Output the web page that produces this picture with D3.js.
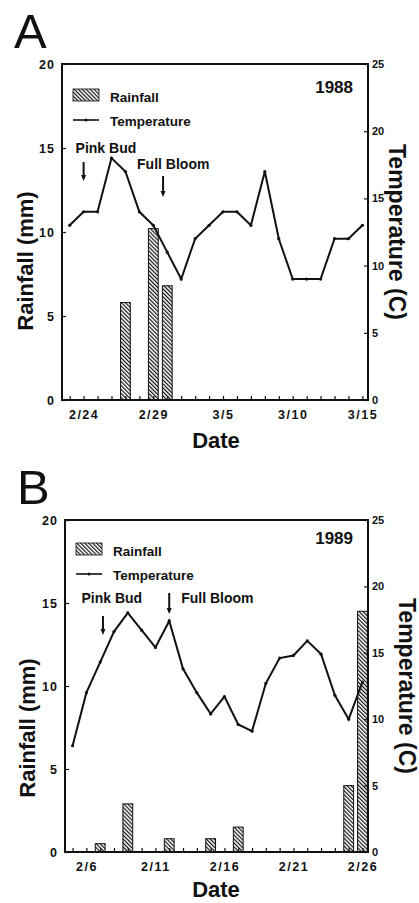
<!DOCTYPE html>
<html>
<head>
<meta charset="utf-8">
<script src="https://cdn.jsdelivr.net/npm/d3@7"></script>
<style>
  body { margin: 0; background: #fff; }
  text { font-family: "Liberation Sans", Arial, sans-serif; fill: #111; }
</style>
</head>
<body>
<script>
// ---- data ----
var dates88 = ["2/23","2/24","2/25","2/26","2/27","2/28","2/29","3/1","3/2","3/3","3/4",
               "3/5","3/6","3/7","3/8","3/9","3/10","3/11","3/12","3/13","3/14","3/15"];
var rain88 = [0,0,0,0,5.8,0,10.2,6.8,0,0,0,0,0,0,0,0,0,0,0,0,0,0];
var temp88 = [13,14,14,18,17,14,13,11,9,12,13,14,14,13,17,12,9,9,9,12,12,13];
var tickLabels88 = ["2/24","2/29","3/5","3/10","3/15"];

var dates89 = ["2/5","2/6","2/7","2/8","2/9","2/10","2/11","2/12","2/13","2/14","2/15",
               "2/16","2/17","2/18","2/19","2/20","2/21","2/22","2/23","2/24","2/25","2/26"];
var rain89 = [0,0,0.5,0,2.9,0,0,0.8,0,0,0.8,0,1.5,0,0,0,0,0,0,0,4.0,14.5];
var temp89 = [8,12,14.3,16.6,18,16.7,15.4,17.4,13.8,12,10.4,11.7,9.6,9.1,12.7,14.6,14.8,15.9,14.9,11.8,10,12.8];
var tickLabels89 = ["2/6","2/11","2/16","2/21","2/26"];

var rainTicks = [0,5,10,15,20];
var tempTicks = [0,5,10,15,20,25];
var stageNames = ["Pink Bud","Full Bloom"];
var stagePos88 = [1, 6.7];   // position along the date index
var stagePos89 = [2.2, 7];

var svg = d3.select("body").append("svg")
    .attr("width", 419)
    .attr("height", 903);

var defs = svg.append("defs");
var pat = defs.append("pattern")
    .attr("id", "hatch")
    .attr("patternUnits", "userSpaceOnUse")
    .attr("width", 2.8)
    .attr("height", 2.8)
    .attr("patternTransform", "rotate(-45)");
pat.append("rect").attr("width", 2.8).attr("height", 2.8).attr("fill", "#fff");
pat.append("line").attr("x1", 0.6).attr("y1", 0).attr("x2", 0.6).attr("y2", 2.8)
    .attr("stroke", "#111").attr("stroke-width", 1.2);

function panel(c)
{
    var g = svg.append("g");

    var x = d3.scaleLinear().domain([-0.55, 21.4]).range([c.left, c.right]);
    var yR = d3.scaleLinear().domain([0, 20]).range([c.bottom, c.top]);
    var yT = d3.scaleLinear().domain([0, 25]).range([c.bottom, c.top]);
    var bw = 9.8;

    // bars
    var bars = c.rain.map(function(v, i) { return { v: v, i: i }; })
        .filter(function(d) { return d.v > 0; });
    g.selectAll("rect.bar")
	.data(bars)
	.enter().append("rect")
	.attr("class", "bar")
	.attr("x", function(d) { return x(d.i) - bw / 2; })
	.attr("width", bw)
	.attr("y", function(d) { return yR(d.v); })
	.attr("height", function(d) { return yR(0) - yR(d.v); })
	.attr("fill", "url(#hatch)")
	.attr("stroke", "#111")
	.attr("stroke-width", 1);

    // temperature line
    var line = d3.line()
	.x(function(d, i) { return x(i); })
	.y(function(d) { return yT(d); });
    g.append("path")
	.datum(c.temp)
	.attr("d", line)
	.attr("fill", "none")
	.attr("stroke", "#111")
	.attr("stroke-width", 2)
	.attr("stroke-linejoin", "miter");
    g.selectAll("circle.pt")
	.data(c.temp)
	.enter().append("circle")
	.attr("class", "pt")
	.attr("cx", function(d, i) { return x(i); })
	.attr("cy", function(d) { return yT(d); })
	.attr("r", 1.6)
	.attr("fill", "#111");

    // axes
    var ax = g.append("g")
	.attr("transform", "translate(0," + c.bottom + ")")
	.call(d3.axisBottom(x)
	      .tickValues(d3.range(c.dates.length))
	      .tickSize(-4)
	      .tickSizeOuter(0)
	      .tickPadding(10)
	      .tickFormat(function(i) {
		  return c.tickLabels.indexOf(c.dates[i]) >= 0 ? c.dates[i] : "";
	      }));
    ax.selectAll("text").style("font-size", "12.5px").style("font-weight", "bold")
	.style("letter-spacing", "1.5px");

    var al = g.append("g")
	.attr("transform", "translate(" + c.left + ",0)")
	.call(d3.axisLeft(yR).tickValues(rainTicks).tickSize(-4).tickSizeOuter(0).tickPadding(7));
    al.selectAll("text").style("font-size", "12.5px").style("font-weight", "bold")
	.style("letter-spacing", "1px");

    var ar = g.append("g")
	.attr("transform", "translate(" + c.right + ",0)")
	.call(d3.axisRight(yT).tickValues(tempTicks).tickSize(-4).tickSizeOuter(0).tickPadding(4));
    ar.selectAll("text").style("font-size", "11px").style("font-weight", "bold");

    g.selectAll(".domain").remove();
    g.selectAll(".tick line").attr("stroke", "#111").attr("stroke-width", 1.2);
    g.selectAll(".tick text").attr("fill", "#111");

    g.append("rect")
	.attr("x", c.left).attr("y", c.top)
	.attr("width", c.right - c.left).attr("height", c.bottom - c.top)
	.attr("fill", "none").attr("stroke", "#111").attr("stroke-width", 2);

    // legend
    var L = c.legend;
    g.append("rect").attr("x", L.x).attr("y", L.y).attr("width", 26).attr("height", 12)
	.attr("fill", "url(#hatch)").attr("stroke", "#111").attr("stroke-width", 0.8);
    g.append("line").attr("x1", L.x).attr("x2", L.x + 26)
	.attr("y1", L.y + 31).attr("y2", L.y + 31)
	.attr("stroke", "#111").attr("stroke-width", 1.6);
    g.append("circle").attr("cx", L.x + 13).attr("cy", L.y + 31).attr("r", 1.5).attr("fill", "#111");
    g.append("text").attr("x", L.tx).attr("y", L.y + 12.5).text("Rainfall")
	.style("font-size", "13.5px").style("font-weight", "bold");
    g.append("text").attr("x", L.tx).attr("y", L.y + 37).text("Temperature")
	.style("font-size", "13.5px").style("font-weight", "bold");

    g.append("text").attr("x", c.right - 15).attr("y", c.top + c.yearDy)
	.attr("text-anchor", "end").text(c.year)
	.style("font-size", "17px").style("font-weight", "bold");

    // growth stage arrows
    c.stages.forEach(function(p, k) {
	var s = c.stageLayout[k];
	var ax0 = x(p);
	g.append("text").attr("x", ax0 + s.tx).attr("y", c.top + s.ty)
	    .text(stageNames[k])
	    .style("font-size", "14px").style("font-weight", "bold");
	g.append("line").attr("x1", ax0).attr("x2", ax0)
	    .attr("y1", c.top + s.a1).attr("y2", c.top + s.a2 - 4)
	    .attr("stroke", "#111").attr("stroke-width", 2);
	g.append("path")
	    .attr("d", "M" + (ax0 - 2.5) + "," + (c.top + s.a2 - 6) +
		  "L" + (ax0 + 2.5) + "," + (c.top + s.a2 - 6) +
		  "L" + ax0 + "," + (c.top + s.a2) + "Z")
	    .attr("fill", "#111");
    });

    // titles
    svg.append("text").attr("x", c.letterX).attr("y", c.top - 16)
	.text(c.letter).style("font-size", "49px");
    svg.append("text")
	.attr("transform", "translate(" + c.leftTitleX + "," + c.leftTitleY + ") rotate(-90)")
	.attr("text-anchor", "middle").text("Rainfall (mm)")
	.style("font-size", "22px").style("font-weight", "bold");
    svg.append("text")
	.attr("transform", "translate(" + c.rightTitleX + "," + ((c.top + c.bottom) / 2) + ") rotate(90)")
	.attr("text-anchor", "middle").text("Temperature (C)")
	.style("font-size", "23px").style("font-weight", "bold");
    svg.append("text").attr("x", 216).attr("y", c.bottom + c.dateDy)
	.attr("text-anchor", "middle").text("Date")
	.style("font-size", "22px").style("font-weight", "bold");
}

panel({
    letter: "A", letterX: 14, year: "1988", yearDy: 29,
    top: 64, bottom: 400, left: 62, right: 368,
    dates: dates88, rain: rain88, temp: temp88, tickLabels: tickLabels88,
    stages: stagePos88,
    stageLayout: [{ tx: -8, ty: 89, a1: 98, a2: 117 },
		  { tx: -26, ty: 105, a1: 112, a2: 133 }],
    legend: { x: 73, y: 89, tx: 110 },
    leftTitleX: 33, leftTitleY: 261, rightTitleX: 389, dateDy: 48
});

panel({
    letter: "B", letterX: 17, year: "1989", yearDy: 23.5,
    top: 520, bottom: 852, left: 65, right: 368,
    dates: dates89, rain: rain89, temp: temp89, tickLabels: tickLabels89,
    stages: stagePos89,
    stageLayout: [{ tx: -21.5, ty: 83, a1: 96, a2: 115 },
		  { tx: 12, ty: 83, a1: 73, a2: 94 }],
    legend: { x: 76, y: 543, tx: 113 },
    leftTitleX: 35, leftTitleY: 728, rightTitleX: 399, dateDy: 45
});
</script>
</body>
</html>
